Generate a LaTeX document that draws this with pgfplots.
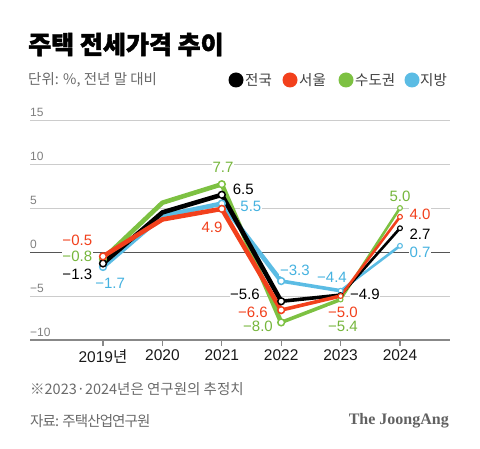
\documentclass[border=0pt]{standalone}
\usepackage{pgfplots}
\pgfplotsset{compat=1.18}
\usepackage{fontspec}
\setmainfont{Liberation Sans}
\newfontfamily\kr{Noto Sans CJK KR}
\newfontfamily\krtight[LetterSpace=-6]{Noto Sans CJK KR}
\newfontfamily\krtitle[BoldFeatures={FakeBold=1.6}]{Noto Sans CJK KR}
\newfontfamily\serifb{Liberation Serif}
\definecolor{cblack}{HTML}{000000}
\definecolor{cred}{HTML}{F2401C}
\definecolor{cgreen}{HTML}{7DC142}
\definecolor{cblue}{HTML}{5BBCE4}
\definecolor{tgreen}{HTML}{76B63C}
\definecolor{tblue}{HTML}{45B2E0}
\definecolor{gridc}{HTML}{CCCCCC}
\definecolor{zeroc}{HTML}{555555}
\definecolor{axc}{HTML}{888888}
\definecolor{txtgray}{HTML}{6A6A6A}
\tikzset{
  lab/.style={font=\fontsize{15bp}{15bp}\selectfont, fill=white, inner sep=0.6bp},
  ylab/.style={font=\fontsize{12bp}{12bp}\selectfont, text=txtgray!85, inner sep=0pt, anchor=south west, yshift=3bp},
}
\begin{document}
\begin{tikzpicture}
\path[use as bounding box] (-30bp,-109bp) rectangle (450bp,340bp);
\begin{axis}[
  at={(0,0)}, anchor=south west,
  scale only axis, width=420bp, height=220bp,
  xmin=2017.771, xmax=2024.842, ymin=-10, ymax=15,
  clip=false,
  axis x line*=bottom, axis y line*=left,
  y axis line style={draw=none},
  x axis line style={draw=axc, line width=2bp},
  xtick={2019,2020,2021,2022,2023,2024},
  xticklabels={{2019{\kr 년}},2020,2021,2022,2023,2024},
  xtick style={draw=axc, line width=1.2bp},
  major tick length=6bp, tick align=outside,
  xticklabel style={font=\fontsize{15.5bp}{16bp}\selectfont, text=black!90},
  ytick={-5,5,10,15}, yticklabels={}, ytick style={draw=none},
  ymajorgrids, grid style={draw=gridc, line width=0.9bp},
  extra y ticks={0}, extra y tick labels={},
  extra y tick style={grid style={draw=zeroc, line width=1bp}, tick style={draw=none}},
]
% y tick labels
\node[ylab] at (axis cs:2017.771,15) {15};
\node[ylab] at (axis cs:2017.771,10) {10};
\node[ylab] at (axis cs:2017.771,5) {5};
\node[ylab] at (axis cs:2017.771,0) {0};
\node[ylab] at (axis cs:2017.771,-5) {−5};
\node[ylab] at (axis cs:2017.771,-10) {−10};

% 수도권 (green)
\addplot[cgreen, line width=4.6bp, line join=round, line cap=round, forget plot] coordinates {(2019,-0.8) (2020,5.6) (2021,7.7) (2022,-8.0)};
\addplot[cgreen, line width=3.6bp, line join=round, line cap=round, forget plot] coordinates {(2022,-8.0) (2023,-5.4)};
\addplot[cgreen, line width=2.6bp, line join=round, line cap=round, forget plot] coordinates {(2023,-5.4) (2024,5.0)};
\addplot[only marks, mark=*, mark size=3.4bp, mark options={fill=white, draw=cgreen, line width=1.5bp}, forget plot] coordinates {(2019,-0.8) (2021,7.7) (2022,-8.0)};
\addplot[only marks, mark=*, mark size=2.4bp, mark options={fill=white, draw=cgreen, line width=1.1bp}, forget plot] coordinates {(2023,-5.4) (2024,5.0)};

% 지방 (blue)
\addplot[cblue, line width=4.6bp, line join=round, line cap=round, forget plot] coordinates {(2019,-1.7) (2020,4.1) (2021,5.5) (2022,-3.3)};
\addplot[cblue, line width=3.6bp, line join=round, line cap=round, forget plot] coordinates {(2022,-3.3) (2023,-4.4)};
\addplot[cblue, line width=2.6bp, line join=round, line cap=round, forget plot] coordinates {(2023,-4.4) (2024,0.7)};
\addplot[only marks, mark=*, mark size=3.4bp, mark options={fill=white, draw=cblue, line width=1.5bp}, forget plot] coordinates {(2019,-1.7) (2021,5.5) (2022,-3.3)};
\addplot[only marks, mark=*, mark size=2.4bp, mark options={fill=white, draw=cblue, line width=1.1bp}, forget plot] coordinates {(2023,-4.4) (2024,0.7)};

% 전국 (black)
\addplot[cblack, line width=4.6bp, line join=round, line cap=round, forget plot] coordinates {(2019,-1.3) (2020,4.5) (2021,6.5) (2022,-5.6)};
\addplot[cblack, line width=3.6bp, line join=round, line cap=round, forget plot] coordinates {(2022,-5.6) (2023,-4.9)};
\addplot[cblack, line width=2.6bp, line join=round, line cap=round, forget plot] coordinates {(2023,-4.9) (2024,2.7)};
\addplot[only marks, mark=*, mark size=3.4bp, mark options={fill=white, draw=cblack, line width=1.5bp}, forget plot] coordinates {(2019,-1.3) (2021,6.5) (2022,-5.6)};
\addplot[only marks, mark=*, mark size=2.4bp, mark options={fill=white, draw=cblack, line width=1.1bp}, forget plot] coordinates {(2023,-4.9) (2024,2.7)};

% 서울 (red)
\addplot[cred, line width=4.6bp, line join=round, line cap=round, forget plot] coordinates {(2019,-0.5) (2020,3.7) (2021,4.9) (2022,-6.6)};
\addplot[cred, line width=3.6bp, line join=round, line cap=round, forget plot] coordinates {(2022,-6.6) (2023,-5.0)};
\addplot[cred, line width=2.6bp, line join=round, line cap=round, forget plot] coordinates {(2023,-5.0) (2024,4.0)};
\addplot[only marks, mark=*, mark size=3.4bp, mark options={fill=white, draw=cred, line width=1.5bp}, forget plot] coordinates {(2019,-0.5) (2021,4.9) (2022,-6.6)};
\addplot[only marks, mark=*, mark size=2.4bp, mark options={fill=white, draw=cred, line width=1.1bp}, forget plot] coordinates {(2023,-5.0) (2024,4.0)};

% data labels
\node[lab, text=cred, anchor=east] at (axis cs:2018.83,1.36) {−0.5};
\node[lab, text=tgreen, anchor=east] at (axis cs:2018.83,-0.51) {−0.8};
\node[lab, text=black, anchor=east] at (axis cs:2018.83,-2.5) {−1.3};
\node[lab, text=tblue] at (axis cs:2019.12,-3.58) {−1.7};
\node[lab, text=tgreen] at (axis cs:2021.02,9.6) {7.7};
\node[lab, text=black] at (axis cs:2021.36,7.16) {6.5};
\node[lab, text=tblue] at (axis cs:2021.49,5.23) {5.5};
\node[lab, text=cred] at (axis cs:2020.835,2.84) {4.9};
\node[lab, text=black] at (axis cs:2021.39,-4.77) {−5.6};
\node[lab, text=cred] at (axis cs:2021.525,-6.82) {−6.6};
\node[lab, text=tgreen] at (axis cs:2021.61,-8.41) {−8.0};
\node[lab, text=tblue] at (axis cs:2022.23,-2.10) {−3.3};
\node[lab, text=tblue] at (axis cs:2022.855,-2.90) {−4.4};
\node[lab, text=black] at (axis cs:2023.41,-4.77) {−4.9};
\node[lab, text=cred] at (axis cs:2023.04,-6.82) {−5.0};
\node[lab, text=tgreen] at (axis cs:2023.04,-8.47) {−5.4};
\node[lab, text=tgreen] at (axis cs:2024.0,6.36) {5.0};
\node[lab, text=cred] at (axis cs:2024.337,4.32) {4.0};
\node[lab, text=black] at (axis cs:2024.337,2.05) {2.7};
\node[lab, text=tblue] at (axis cs:2024.337,0.0) {0.7};
\end{axis}

% title and header
\node[anchor=west, inner sep=0pt, font=\krtitle\bfseries\fontsize{25bp}{25bp}\selectfont] at (-2bp,295.5bp) {주택 전세가격 추이};
\node[anchor=west, inner sep=0pt, text=txtgray, font=\kr\fontsize{14.5bp}{15bp}\selectfont] at (-2bp,260bp) {단위: \%, 전년 말 대비};
% legend
\fill[cblack] (206bp,260bp) circle (7.5bp);
\node[anchor=west, inner sep=0pt, text=black!75, font=\kr\fontsize{14.5bp}{15bp}\selectfont] at (215bp,260bp) {전국};
\fill[cred] (260bp,260bp) circle (7.5bp);
\node[anchor=west, inner sep=0pt, text=black!75, font=\kr\fontsize{14.5bp}{15bp}\selectfont] at (269bp,260bp) {서울};
\fill[cgreen] (316bp,260bp) circle (7.5bp);
\node[anchor=west, inner sep=0pt, text=black!75, font=\kr\fontsize{14.5bp}{15bp}\selectfont] at (325bp,260bp) {수도권};
\fill[cblue] (382bp,260bp) circle (7.5bp);
\node[anchor=west, inner sep=0pt, text=black!75, font=\kr\fontsize{14.5bp}{15bp}\selectfont] at (390bp,260bp) {지방};
% footer
\node[anchor=west, inner sep=0pt, text=txtgray, font=\kr\fontsize{14.5bp}{15bp}\selectfont] at (0bp,-49bp) {※2023·2024년은 연구원의 추정치};
\node[anchor=west, inner sep=0pt, text=txtgray, font=\krtight\fontsize{14.5bp}{15bp}\selectfont] at (0bp,-81bp) {자료: 주택산업연구원};
\node[anchor=east, inner sep=0pt, text=black!62, font=\serifb\bfseries\fontsize{16bp}{16bp}\selectfont] at (419bp,-81bp) {The JoongAng};
\end{tikzpicture}
\end{document}
